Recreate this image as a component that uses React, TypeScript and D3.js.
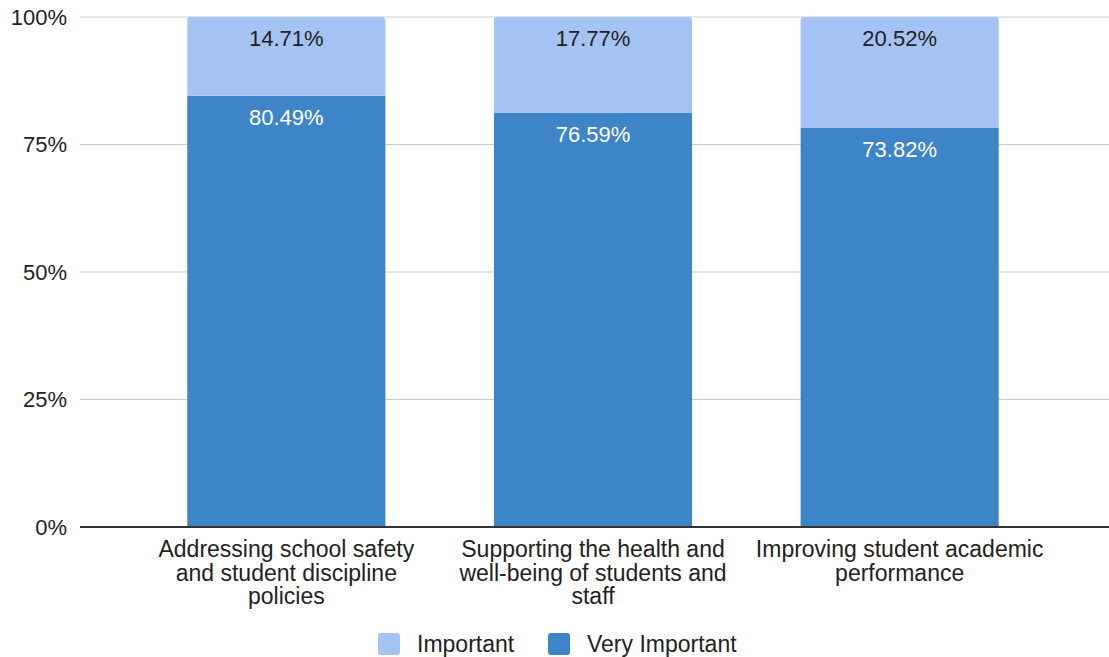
import { useMemo } from 'react';
import * as d3 from 'd3';

const WIDTH = 1109;
const HEIGHT = 657;

const CATEGORIES = [
  ['Addressing school safety', 'and student discipline', 'policies'],
  ['Supporting the health and', 'well-being of students and', 'staff'],
  ['Improving student academic', 'performance'],
];
const VERY_IMPORTANT = [80.49, 76.59, 73.82];
const IMPORTANT = [14.71, 17.77, 20.52];
const SERIES = ['Very Important', 'Important'];
const COLORS: Record<string, string> = { 'Very Important': '#3d85c6', Important: '#a4c2f4' };
const Y_TICKS = [0, 0.25, 0.5, 0.75, 1];

const FONT = '"Liberation Sans", Arial, sans-serif';
const PLOT = { left: 80, right: 1109, top: 17, bottom: 527 };

export default function App() {
  const rows = CATEGORIES.map((c, i) => ({
    key: String(i),
    'Very Important': VERY_IMPORTANT[i],
    Important: IMPORTANT[i],
  }));

  // 100% stacked: values normalised per category, labels keep the raw numbers
  const stacked = useMemo(
    () => d3.stack<any>().keys(SERIES).offset(d3.stackOffsetExpand)(rows),
    [],
  );

  const x = d3
    .scaleBand<string>()
    .domain(rows.map((r) => r.key))
    .range([133, 1053])
    .paddingInner(0.354)
    .paddingOuter(0.177);
  const y = d3.scaleLinear().domain([0, 1]).range([PLOT.bottom, PLOT.top]);

  return (
    <svg width={WIDTH} height={HEIGHT} style={{ position: 'absolute', left: 0, top: 0, background: '#fff' }}>
      {/* gridlines + y labels */}
      {Y_TICKS.map((t) => (
        <g key={t}>
          {t > 0 && (
            <line x1={PLOT.left} x2={PLOT.right} y1={y(t)} y2={y(t)} stroke="#cccccc" strokeWidth={1} />
          )}
          <text
            x={67} y={y(t)} dy="0.35em" textAnchor="end"
            fontFamily={FONT} fontSize={22} fill="#222"
          >
            {d3.format('.0%')(t)}
          </text>
        </g>
      ))}

      {/* bars */}
      {stacked.map((layer, si) =>
        layer.map((d, i) => {
          const key = SERIES[si];
          const x0 = x(String(i))!;
          const bw = x.bandwidth();
          const yTop = y(d[1]);
          const h = y(d[0]) - y(d[1]);
          const raw = key === 'Important' ? IMPORTANT[i] : VERY_IMPORTANT[i];
          return (
            <g key={`${key}-${i}`}>
              {key === 'Important' ? (
                <path
                  d={`M${x0},${yTop + h} V${yTop + 3} Q${x0},${yTop} ${x0 + 3},${yTop} H${x0 + bw - 3} Q${x0 + bw},${yTop} ${x0 + bw},${yTop + 3} V${yTop + h} Z`}
                  fill={COLORS[key]}
                />
              ) : (
                <rect x={x0} y={yTop} width={bw} height={h} fill={COLORS[key]} />
              )}
              <text
                x={x0 + bw / 2} y={yTop + 21} dy="0.35em" textAnchor="middle"
                fontFamily={FONT} fontSize={22}
                fill={key === 'Important' ? '#222' : '#fff'}
              >
                {raw.toFixed(2)}%
              </text>
            </g>
          );
        }),
      )}

      {/* baseline */}
      <line x1={PLOT.left} x2={PLOT.right} y1={PLOT.bottom} y2={PLOT.bottom} stroke="#333" strokeWidth={2} />

      {/* category labels */}
      {CATEGORIES.map((lines, i) => (
        <text
          key={i} textAnchor="middle" fontFamily={FONT} fontSize={23} fill="#222"
        >
          {lines.map((l, j) => (
            <tspan key={j} x={x(String(i))! + x.bandwidth() / 2} y={557 + j * 23.5}>
              {l}
            </tspan>
          ))}
        </text>
      ))}

      {/* legend */}
      {[
        { name: 'Important', sx: 378 },
        { name: 'Very Important', sx: 548 },
      ].map((l) => (
        <g key={l.name}>
          <rect x={l.sx} y={633} width={22} height={22} rx={3} fill={COLORS[l.name]} />
          <text x={l.sx + 39} y={644} dy="0.35em" fontFamily={FONT} fontSize={23} fill="#222">
            {l.name}
          </text>
        </g>
      ))}
    </svg>
  );
}
